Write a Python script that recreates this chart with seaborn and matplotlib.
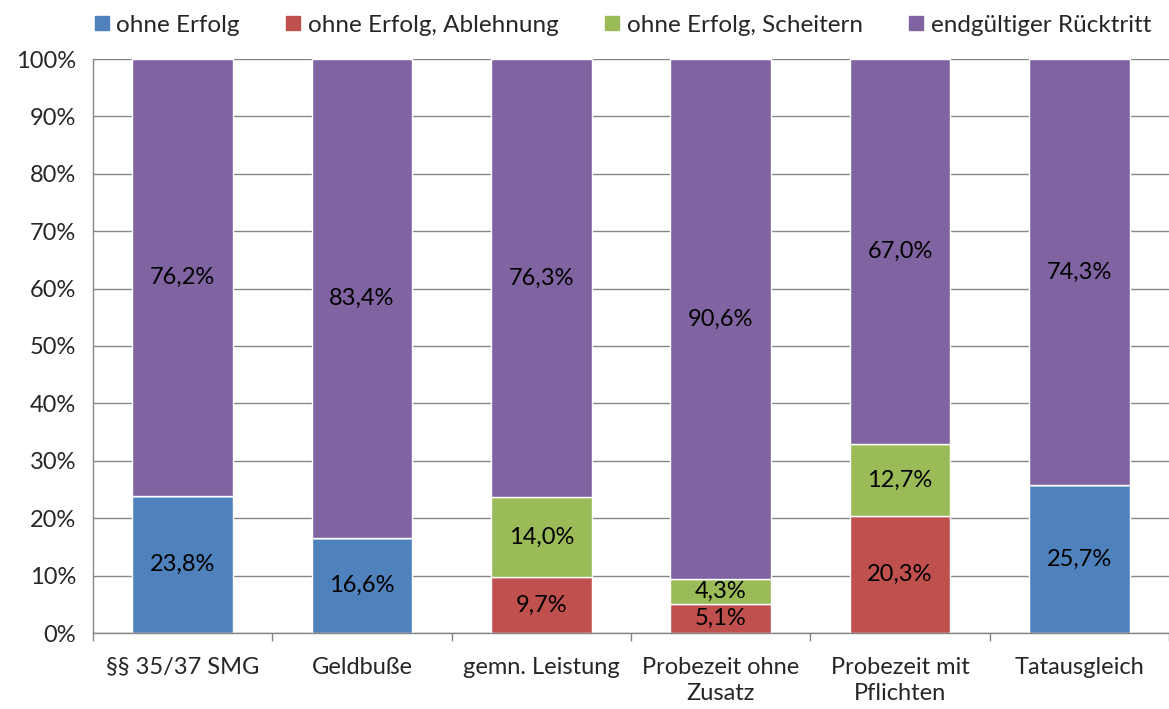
import matplotlib
matplotlib.use("Agg")
import matplotlib.pyplot as plt
import seaborn as sns
import pandas as pd
from matplotlib.lines import Line2D
from matplotlib.ticker import MultipleLocator, FixedLocator

# ========= Data =========
categories = ["§§ 35/37 SMG", "Geldbuße", "gemn. Leistung",
              "Probezeit ohne\nZusatz", "Probezeit mit\nPflichten", "Tatausgleich"]
series = ["ohne Erfolg", "ohne Erfolg, Ablehnung", "ohne Erfolg, Scheitern", "endgültiger Rücktritt"]
ohne_erfolg = [23.8, 16.6, 0.0, 0.0, 0.0, 25.7]
ablehnung = [0.0, 0.0, 9.7, 5.1, 20.3, 0.0]
scheitern = [0.0, 0.0, 14.0, 4.3, 12.7, 0.0]
ruecktritt = [76.2, 83.4, 76.3, 90.6, 67.0, 74.3]
colors = ["#4F81BD", "#C0504D", "#9BBB59", "#8064A2"]

df = pd.DataFrame({"Kategorie": categories, series[0]: ohne_erfolg, series[1]: ablehnung,
                   series[2]: scheitern, series[3]: ruecktritt})

# ========= Plot =========
sns.set_style("white")
plt.rcParams["font.family"] = ["Lato", "DejaVu Sans"]
fs = 17
plt.rcParams["font.size"] = fs

fig = plt.figure(figsize=(11.69, 7.09), dpi=100)
ax = fig.add_axes([93 / 1169, 1 - 633 / 709, 1 - 93 / 1169, (633 - 59) / 709])

grid_col = "#868686"
bottom = pd.Series([0.0] * len(categories))
for name, col in zip(series, colors):
    sns.barplot(data=df, x="Kategorie", y=name, color=col, width=0.56,
                bottom=bottom.values, ax=ax, saturation=1, zorder=2)
    for i, v in enumerate(df[name]):
        if v > 0:
            ax.text(i, bottom[i] + v / 2, f"{v:.1f}%".replace(".", ","),
                    ha="center", va="center", fontsize=fs, color="black", zorder=3)
    bottom = bottom + df[name]

ax.set_ylim(0, 100)
ax.set_xlim(-0.5, 5.5)
ax.yaxis.set_major_locator(MultipleLocator(10))
ax.set_yticklabels([f"{int(t)}%" for t in ax.get_yticks()])
ax.yaxis.grid(True, color=grid_col, linewidth=1, zorder=0)
ax.set_axisbelow(True)
ax.set_xlabel("")
ax.set_ylabel("")

ax.xaxis.set_minor_locator(FixedLocator([i - 0.5 for i in range(len(categories) + 1)]))
ax.tick_params(axis="x", which="major", length=0, pad=17, labelsize=fs)
ax.tick_params(axis="x", which="minor", length=6, color=grid_col, direction="out", width=1)
ax.tick_params(axis="y", length=6, color=grid_col, direction="out", width=1, pad=6, labelsize=fs)
ax.tick_params(axis="x", bottom=True, which="both")
for lbl in ax.get_xticklabels():
    lbl.set_linespacing(1.3)

for s in ["top", "right"]:
    ax.spines[s].set_visible(False)
for s in ["left", "bottom"]:
    ax.spines[s].set_color(grid_col)
    ax.spines[s].set_linewidth(1)

handles = [Line2D([0], [0], marker="s", linestyle="", markersize=10,
                  markerfacecolor=c, markeredgecolor=c) for c in colors]
fig.legend(handles, series, loc="upper left", bbox_to_anchor=(80 / 1169, 1.0), ncol=4,
           frameon=False, fontsize=17.5, handlelength=0.6, handletextpad=0.3,
           columnspacing=1.9, borderaxespad=0.2)

fig.savefig("out.png", dpi=100)
